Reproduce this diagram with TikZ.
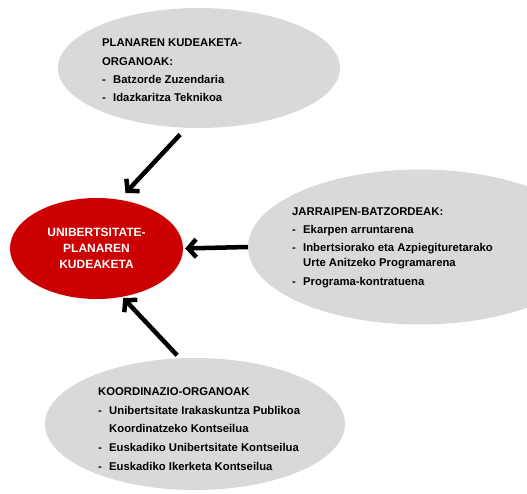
\documentclass[tikz,border=0pt]{standalone}
\usepackage{fontspec}
\setmainfont{Liberation Sans}
\usetikzlibrary{arrows.meta,shapes.geometric}
\definecolor{upred}{RGB}{204,0,0}
\definecolor{upgray}{RGB}{217,217,217}
\newcommand{\itm}[1]{\makebox[11pt][l]{-}#1}
\newcommand{\cont}[1]{\hspace*{11pt}#1}
\tikzset{
  blob/.style={ellipse, fill=upgray, inner sep=0pt},
  core/.style={ellipse, fill=upred, text=white, inner sep=0pt,
               minimum width=173pt, minimum height=101pt, align=center,
               font=\fontsize{12}{16}\selectfont\bfseries},
  lst/.style={anchor=north west, inner sep=0pt, align=left,
              font=\fontsize{11.3}{15}\selectfont\bfseries},
  link/.style={-{Straight Barb[length=8pt,width=18pt]}, line width=4.5pt},
}

\begin{document}
\begin{tikzpicture}[x=1pt,y=-1pt]
    \clip (0,0) rectangle (527,494);
    % --- the four bodies
    \node[blob, minimum width=282pt, minimum height=120pt] (plan) at (199,68) {};
    \node[blob, minimum width=344pt, minimum height=155pt] (jarr) at (420,247) {};
    \node[blob, minimum width=300pt, minimum height=132pt] (koord) at (195,424) {};
    \node[core] (uni) at (96.5,248.5) {UNIBERTSITATE-\\PLANAREN\\KUDEAKETA};
    % --- lists
    \node[lst] (plantxt) at (102,39) {PLANAREN KUDEAKETA-\\[4pt]ORGANOAK:\\[3pt]
      \itm{Batzorde Zuzendaria}\\[3pt]\itm{Idazkaritza Teknikoa}};
    \node[lst] (jarrtxt) at (292,207) {JARRAIPEN-BATZORDEAK:\\[3pt]
      \itm{Ekarpen arruntarena}\\[3pt]\itm{Inbertsiorako eta Azpiegituretarako}\\
      \cont{Urte Anitzeko Programarena}\\[4pt]\itm{Programa-kontratuena}};
    \node[lst] (koordtxt) at (98,387) {KOORDINAZIO-ORGANOAK\\[4pt]
      \itm{Unibertsitate Irakaskuntza Publikoa}\\[3pt]\cont{Koordinatzeko Kontseilua}\\[4pt]
      \itm{Euskadiko Unibertsitate Kontseilua}\\[4pt]\itm{Euskadiko Ikerketa Kontseilua}};
    % --- arrows into the centre
    \draw[link, shorten <=9pt, shorten >=9pt] (plan.-102) -- (uni.65);
    \draw[link, shorten >=2pt] (jarr.west) -- (uni.east);
    \draw[link, shorten <=4pt, shorten >=1.5pt] (koord.103) -- (uni.-62);
\end{tikzpicture}
\end{document}
